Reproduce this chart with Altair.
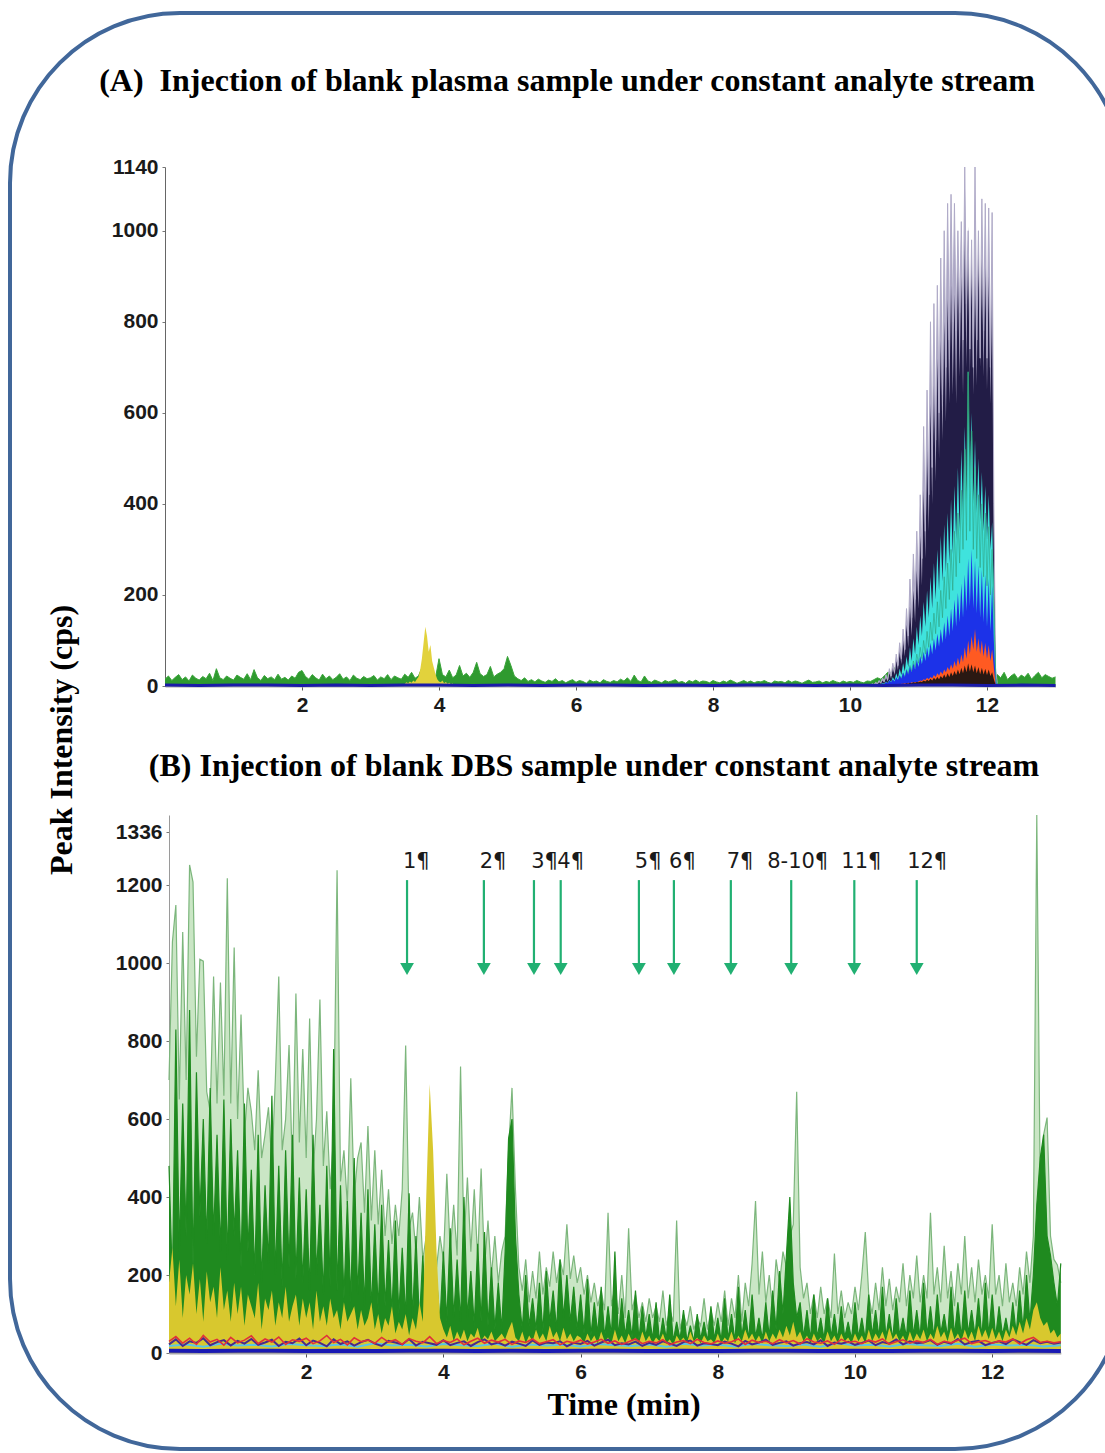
import altair as alt
import numpy as np
import pandas as pd

W, H = 1105, 1453

X_TICKS = [2, 4, 6, 8, 10, 12]
A_Y_TICKS = [0, 200, 400, 600, 800, 1000, 1140]
B_Y_TICKS = [0, 200, 400, 600, 800, 1000, 1200, 1336]

# ---------------- Panel A : blank plasma ----------------
# green baseline trace, t = 0 .. 13 min, step 0.05
A_GREEN = [
    15, 22, 12, 19, 25, 14, 20, 11, 24, 17, 13, 21, 16, 28, 12, 38, 18, 14, 22, 17,
    13, 24, 19, 15, 27, 14, 36, 18, 12, 23, 16, 20, 14, 26, 15, 19, 13, 22, 17, 30,
    34, 21, 15, 25, 18, 13, 26, 16, 22, 14, 19, 27, 15, 20, 12, 24, 17, 14, 21, 16,
    18, 23, 13, 20, 16, 25, 14, 22, 18, 15, 26, 19, 30, 17, 22, 40, 28, 34, 24, 19,
    60, 25, 20, 35, 18, 24, 45, 22, 28, 19, 30, 52, 27, 21, 25, 43, 20, 26, 30, 38,
    65, 45, 22, 16, 12, 18, 10, 14, 9, 15, 11, 8, 13, 10, 16, 9, 12, 7, 11, 14,
    8, 12, 10, 6, 13, 9, 11, 7, 14, 10, 8, 12, 9, 15, 11, 18, 10, 24, 12, 9,
    22, 11, 8, 13, 10, 7, 12, 9, 11, 14, 8, 10, 6, 12, 9, 13, 8, 11, 10, 7,
    12, 9, 7, 11, 8, 13, 10, 6, 9, 12, 8, 11, 7, 10, 9, 12, 8, 6, 11, 9,
    10, 7, 12, 8, 11, 9, 6, 10, 13, 8, 9, 11, 7, 10, 8, 12, 9, 7, 11, 8,
    10, 8, 12, 9, 7, 11, 10, 14, 18, 15, 22, 30, 28, 40, 35, 50, 45, 60, 55, 70,
    65, 80, 75, 95, 85, 110, 100, 120, 110, 135, 125, 150, 140, 170, 160, 175, 150, 130, 120, 100,
    90, 60, 12, 25, 18, 30, 14, 22, 27, 16, 24, 19, 28, 15, 23, 30, 18, 25, 21, 17,
    20,
]
# yellow trace around 3.8 min, t = 3.5 .. 4.2, step 0.025
A_YELLOW = [5, 8, 6, 10, 7, 12, 9, 15, 20, 35, 60, 95, 130, 110, 75, 90, 55, 40, 25, 15,
            10, 8, 12, 6, 9, 5, 7, 4, 6]
# late cluster, t = 10.30 .. 12.15, step 0.025
A_GRAY = [2, 5, 3, 8, 5, 12, 7, 18, 10, 25,
          14, 38, 22, 50, 30, 70, 45, 95, 60, 125,
          80, 170, 110, 235, 150, 290, 190, 340, 220, 420,
          280, 570, 340, 650, 420, 800, 480, 840, 540, 880,
          600, 940, 640, 1000, 700, 1060, 760, 1080, 800, 1060,
          780, 1000, 820, 1020, 760, 1140, 840, 1000, 740, 980,
          700, 1140, 760, 1000, 720, 1070, 780, 1060, 720, 1050,
          700, 1040, 400, 40, 5]
A_NAVY = [1, 3, 2, 5, 3, 8, 5, 12, 7, 18,
          10, 28, 16, 40, 24, 55, 35, 75, 48, 100,
          65, 135, 85, 175, 110, 210, 140, 255, 170, 330,
          220, 430, 280, 520, 340, 620, 400, 660, 450, 720,
          500, 760, 540, 800, 580, 850, 620, 880, 640, 860,
          620, 920, 680, 900, 640, 980, 700, 1010, 680, 940,
          640, 900, 660, 960, 700, 940, 680, 920, 650, 900,
          620, 880, 350, 30, 3]
A_TEAL = [0, 1, 1, 2, 2, 3, 3, 5, 4, 7,
          5, 9, 7, 12, 9, 16, 12, 22, 15, 28,
          20, 36, 26, 45, 32, 55, 40, 70, 50, 85,
          60, 100, 70, 120, 85, 140, 100, 160, 115, 185,
          130, 210, 150, 240, 170, 270, 190, 300, 210, 340,
          240, 380, 270, 430, 300, 520, 320, 690, 340, 560,
          300, 480, 280, 420, 260, 400, 240, 380, 220, 350,
          200, 300, 150, 15, 1]
A_CYAN = [0, 2, 1, 3, 2, 5, 3, 7, 4, 10,
          6, 14, 9, 20, 12, 28, 17, 38, 24, 50,
          32, 65, 42, 85, 55, 105, 70, 130, 90, 155,
          110, 185, 130, 210, 150, 240, 170, 270, 190, 300,
          210, 330, 230, 355, 250, 380, 270, 410, 290, 440,
          320, 480, 340, 520, 370, 570, 400, 610, 430, 600,
          400, 540, 380, 500, 360, 470, 340, 440, 320, 420,
          300, 360, 200, 20, 2]
A_BLUE = [0, 1, 1, 2, 2, 4, 3, 6, 4, 9,
          6, 12, 8, 15, 10, 19, 13, 24, 16, 30,
          20, 36, 25, 43, 30, 50, 36, 58, 42, 66,
          48, 75, 55, 85, 62, 95, 70, 105, 78, 115,
          86, 125, 94, 140, 102, 155, 110, 170, 120, 190,
          130, 205, 140, 225, 150, 245, 165, 280, 175, 300,
          170, 275, 160, 265, 150, 255, 140, 245, 130, 235,
          120, 220, 100, 10, 1]
A_ORANGE = [0, 0, 1, 0, 1, 1, 2, 1, 2, 2,
            3, 2, 3, 3, 4, 3, 5, 4, 5, 5,
            6, 5, 7, 6, 8, 7, 9, 8, 10, 12,
            11, 15, 13, 18, 15, 20, 17, 24, 20, 28,
            23, 32, 26, 36, 30, 42, 34, 48, 38, 55,
            42, 62, 46, 70, 52, 85, 60, 100, 70, 110,
            80, 125, 75, 105, 70, 100, 65, 95, 60, 90,
            55, 80, 40, 5, 0]
A_BLACK = [0, 0, 0, 1, 0, 1, 1, 1, 2, 1,
           2, 2, 3, 2, 3, 3, 4, 3, 4, 5,
           4, 6, 5, 7, 6, 8, 7, 9, 8, 10,
           9, 12, 10, 14, 11, 16, 12, 18, 14, 20,
           15, 22, 17, 25, 18, 28, 20, 30, 22, 33,
           24, 36, 26, 40, 28, 45, 30, 50, 32, 48,
           30, 45, 28, 42, 26, 40, 25, 38, 24, 36,
           22, 30, 15, 3, 0]
# baseline, t = 0 .. 13, step 0.5
A_BASE = [2, 1, 2, 2, 1, 2, 1, 2, 2, 1, 2, 1, 2, 2, 1, 2, 1, 2, 2, 1, 2, 1, 2, 2, 1, 2, 1]

# ---------------- Panel B : blank DBS ----------------
# t = 0 .. 13, step 0.05
B_DARKGREEN = [
    480, 180, 830, 260, 640, 300, 880, 220, 720, 350, 600, 280, 680, 300, 560, 260, 650, 240, 600, 300,
    520, 220, 640, 260, 470, 200, 560, 180, 430, 230, 660, 200, 480, 170, 520, 220, 560, 190, 450, 180,
    420, 160, 560, 200, 380, 150, 480, 170, 780, 160, 430, 140, 390, 130, 500, 150, 360, 120, 420, 110,
    330, 110, 380, 120, 290, 100, 340, 100, 270, 90, 410, 90, 300, 80, 250, 80, 200, 70, 190, 80,
    260, 80, 320, 90, 240, 80, 400, 90, 210, 70, 280, 80, 310, 70, 220, 60, 180, 60, 260, 550,
    600, 300, 150, 60, 200, 70, 140, 60, 180, 55, 210, 80, 160, 60, 240, 90, 200, 80, 170, 60,
    150, 50, 190, 45, 130, 50, 170, 40, 120, 45, 260, 40, 140, 45, 110, 40, 160, 35, 120, 40,
    100, 35, 130, 30, 90, 35, 150, 30, 80, 35, 110, 30, 70, 30, 100, 35, 80, 30, 120, 35,
    90, 30, 140, 35, 100, 30, 170, 40, 110, 35, 150, 40, 90, 35, 130, 40, 160, 60, 210, 100,
    250, 400, 180, 90, 130, 40, 110, 35, 150, 40, 90, 35, 140, 40, 100, 35, 120, 40, 80, 35,
    130, 40, 90, 35, 150, 45, 110, 40, 170, 40, 100, 35, 140, 45, 90, 40, 160, 45, 110, 40,
    180, 45, 120, 40, 150, 50, 100, 40, 170, 45, 130, 40, 160, 50, 110, 45, 140, 40, 180, 45,
    150, 40, 120, 45, 90, 40, 130, 50, 160, 60, 200, 80, 200, 380, 500, 560, 300, 250, 180, 120,
    230,
]
B_LIGHTGREEN = [
    700, 1055, 1149, 650, 1080, 700, 1252, 1208, 760, 1010, 1005, 670, 620, 966, 640, 950, 660, 1218, 640, 1040,
    600, 868, 560, 680, 620, 520, 725, 500, 560, 630, 480, 700, 966, 520, 600, 790, 460, 922, 540, 780,
    500, 858, 460, 600, 907, 480, 620, 420, 560, 1238, 440, 520, 380, 705, 400, 500, 540, 360, 582, 340,
    520, 330, 470, 300, 420, 280, 380, 300, 420, 789, 320, 360, 260, 400, 240, 300, 200, 280, 220, 300,
    240, 460, 260, 380, 250, 735, 280, 450, 260, 420, 240, 473, 220, 340, 200, 300, 180, 260, 300, 520,
    680, 420, 220, 160, 240, 130, 210, 140, 260, 150, 220, 170, 260, 180, 240, 200, 330, 190, 250, 180,
    220, 150, 200, 130, 180, 120, 160, 110, 360, 120, 170, 100, 200, 90, 320, 110, 150, 90, 130, 80,
    140, 90, 120, 80, 160, 70, 110, 80, 340, 60, 100, 70, 120, 60, 90, 70, 140, 60, 110, 70,
    130, 80, 160, 70, 140, 90, 200, 80, 180, 120, 230, 390, 150, 260, 130, 200, 110, 240, 180, 260,
    220, 300, 330, 670, 220, 140, 180, 100, 150, 90, 170, 100, 140, 90, 255, 100, 160, 90, 130, 100,
    170, 110, 200, 310, 150, 100, 180, 110, 220, 120, 190, 110, 170, 130, 230, 120, 200, 140, 250, 130,
    200, 140, 360, 150, 220, 130, 275, 140, 210, 120, 230, 150, 300, 140, 220, 130, 240, 150, 200, 140,
    330, 150, 200, 120, 230, 130, 180, 120, 220, 150, 260, 180, 300, 1380, 420, 560, 604, 300, 240, 226,
    180,
]
B_YELLOW = [
    180, 270, 120, 240, 90, 200, 150, 230, 100, 190, 80, 210, 130, 170, 90, 220, 110, 160, 80, 180,
    100, 170, 70, 150, 120, 90, 180, 60, 140, 110, 160, 70, 130, 90, 170, 80, 120, 150, 70, 140,
    90, 130, 60, 160, 80, 120, 70, 140, 90, 110, 60, 130, 80, 100, 120, 60, 110, 70, 90, 130,
    60, 100, 50, 90, 70, 120, 50, 80, 60, 100, 45, 90, 60, 130, 80, 400, 690, 520, 260, 90,
    60, 40, 70, 30, 55, 35, 60, 30, 50, 40, 65, 30, 45, 35, 55, 30, 40, 50, 35, 60,
    80, 40, 30, 55, 25, 45, 30, 60, 35, 50, 30, 70, 40, 55, 30, 65, 35, 50, 30, 45,
    40, 25, 50, 30, 45, 25, 55, 30, 40, 25, 60, 30, 45, 25, 50, 30, 40, 25, 55, 30,
    45, 25, 40, 30, 50, 25, 35, 20, 45, 30, 40, 25, 55, 30, 40, 25, 45, 30, 35, 25,
    50, 25, 40, 30, 55, 25, 45, 30, 60, 35, 50, 30, 45, 25, 55, 30, 50, 35, 60, 40,
    70, 45, 80, 40, 55, 30, 45, 25, 50, 30, 40, 25, 55, 30, 45, 25, 50, 30, 40, 25,
    50, 30, 45, 25, 60, 30, 50, 35, 55, 30, 65, 35, 50, 30, 45, 25, 55, 30, 50, 35,
    60, 30, 50, 35, 70, 40, 55, 30, 65, 35, 50, 30, 60, 35, 55, 30, 70, 40, 60, 35,
    65, 35, 55, 30, 60, 40, 70, 45, 80, 50, 90, 60, 110, 130, 90, 70, 80, 50, 60, 40,
    50,
]
# t = 0 .. 13, step 0.1
B_RED = [
    30, 42, 25, 38, 22, 45, 28, 35, 20, 40, 26, 33, 44, 24, 36, 28, 41, 22, 34, 30,
    38, 24, 31, 45, 27, 35, 21, 39, 29, 33, 25, 40, 28, 34, 22, 37, 30, 26, 42, 24,
    32, 27, 36, 21, 30, 38, 25, 33, 28, 35, 22, 31, 27, 36, 24, 29, 34, 21, 30, 26,
    33, 23, 28, 35, 25, 31, 22, 29, 36, 24, 30, 26, 34, 21, 28, 32, 24, 35, 27, 23,
    31, 25, 29, 36, 22, 33, 27, 30, 24, 34, 26, 32, 23, 37, 28, 25, 31, 22, 35, 27,
    30, 24, 33, 28, 36, 23, 29, 34, 25, 31, 27, 35, 22, 30, 26, 33, 38, 24, 29, 32,
    25, 31, 28, 36, 23, 34, 40, 27, 30, 26, 29,
]
B_PURPLE = [
    22, 35, 18, 30, 26, 38, 20, 28, 33, 19, 31, 24, 36, 21, 27, 34, 18, 29, 25, 37,
    20, 32, 26, 17, 35, 23, 30, 19, 28, 34, 24, 18, 31, 27, 22, 36, 19, 29, 25, 21,
    33, 20, 26, 30, 18, 28, 35, 22, 27, 19, 29, 24, 18, 32, 21, 27, 25, 30, 17, 26,
    23, 31, 19, 27, 34, 20, 25, 22, 29, 18, 26, 21, 30, 24, 18, 28, 32, 19, 25, 23,
    20, 29, 24, 17, 31, 22, 27, 34, 21, 26, 30, 19, 25, 28, 22, 33, 18, 27, 24, 29,
    21, 26, 32, 20, 28, 24, 35, 22, 30, 25, 27, 33, 21, 29, 24, 36, 22, 28, 31, 20,
    26, 30, 23, 35, 28, 21, 33, 25, 29, 24, 27,
]
# t = 0 .. 13, step 0.25
B_CYAN = [18, 22, 16, 24, 19, 21, 17, 23, 20, 18, 22, 16, 25, 19, 21, 17, 23, 20, 18, 24,
          16, 22, 19, 21, 17, 23, 20, 18, 22, 16, 24, 19, 21, 17, 23, 20, 18, 22, 16, 25,
          19, 21, 17, 23, 20, 18, 24, 16, 22, 19, 21, 17, 20]
# t = 0 .. 13, step 0.5
B_BASE = [6, 5, 6, 6, 5, 6, 5, 6, 6, 5, 6, 5, 6, 6, 5, 6, 5, 6, 6, 5, 6, 5, 6, 6, 5, 6, 5]

# peak annotations (retention times, min)
ARROW_T = [3.47, 4.59, 5.32, 5.71, 6.85, 7.36, 8.19, 9.07, 9.99, 10.90]
LABELS = ["1¶", "2¶", "3¶", "4¶", "5¶", "6¶", "7¶", "8-10¶", "11¶", "12¶"]
LABEL_T = [3.41, 4.53, 5.28, 5.66, 6.79, 7.29, 8.13, 8.72, 9.80, 10.76]

# ---------------- helpers ----------------
def grid(start, step, n):
    return np.round(start + step * np.arange(n), 4)


def frame(t, v):
    assert len(t) == len(v), (len(t), len(v))
    return pd.DataFrame({"t": t, "v": v})


PANELS = {
    "A": dict(x0=165, x1=1055.5, y0=686, y1=167, ymax=1140, yticks=A_Y_TICKS, ydom="#666666"),
    "B": dict(x0=169, x1=1060.8, y0=1353, y1=815, ymax=1380, yticks=B_Y_TICKS, ydom="#9a9a9a"),
}
LABEL_STYLE = dict(labelFont="Liberation Sans", labelFontSize=21, labelFontWeight="bold",
                   labelColor="#1a1a1a", labelFlush=False, labelOverlap=False, grid=False, title=None)


def xenc(p, field="t"):
    g = PANELS[p]
    return alt.X(f"{field}:Q",
                 scale=alt.Scale(domain=[0, 13], range=[g["x0"], g["x1"]], nice=False, zero=False),
                 axis=alt.Axis(orient="bottom", offset=g["y0"] - H, values=X_TICKS, format="d",
                               domainColor="#a8a8a8", domainWidth=2, tickColor="#555555",
                               tickSize=4, labelPadding=4, **LABEL_STYLE))


def yenc(p, field="v"):
    g = PANELS[p]
    return alt.Y(f"{field}:Q",
                 scale=alt.Scale(domain=[0, g["ymax"]], range=[g["y0"], g["y1"]], nice=False,
                                 zero=True, clamp=True),
                 axis=alt.Axis(orient="left", offset=-g["x0"], values=g["yticks"], format="d",
                               domainColor=g["ydom"], domainWidth=1, tickColor="#777777",
                               tickSize=3, labelPadding=4, **LABEL_STYLE))


def trace(p, t, v, color, width=1.2, opacity=1.0):
    return alt.Chart(frame(t, v)).mark_line(color=color, strokeWidth=width, opacity=opacity).encode(
        x=xenc(p), y=yenc(p))


def filled(p, t, v, color, opacity=1.0):
    return alt.Chart(frame(t, v)).mark_area(color=color, opacity=opacity).encode(
        x=xenc(p), y=yenc(p))


tA = grid(0, 0.05, 261)
tAy = grid(3.5, 0.025, 29)
tC = grid(10.30, 0.025, 75)
tB50 = grid(0, 0.05, 261)
tB10 = grid(0, 0.1, 131)
tB25 = grid(0, 0.25, 53)
tB5 = grid(0, 0.5, 27)

panel_a = alt.layer(
    filled("A", tA, A_GREEN, "#2f9a2f"),
    trace("A", tA, A_GREEN, "#3aa53a", 1.0),
    filled("A", tAy, A_YELLOW, "#e2d23c"),
    filled("A", tC, A_GRAY, "#aaa5c2"),
    filled("A", tC, A_NAVY, "#221c46"),
    trace("A", tC, A_GRAY, "#b0abc8", 1.0),
    trace("A", tC, A_TEAL, "#2e9a76", 1.4),
    filled("A", tC, A_CYAN, "#3fe3dd"),
    trace("A", tC, A_TEAL, "#2e9a76", 0.8, 0.7),
    filled("A", tC, A_BLUE, "#1c32e8"),
    filled("A", tC, A_ORANGE, "#ff5a22"),
    filled("A", tC, A_BLACK, "#2a1812"),
    trace("A", tB5, A_BASE, "#1a1aa8", 3),
)

ARROW_C = "#21b072"
ann = pd.DataFrame({"t": ARROW_T})
ann["top"] = 1213
ann["tip"] = 997
ann["head"] = 985
lab = pd.DataFrame({"t": LABEL_T, "label": LABELS})
lab["ly"] = 1259

arrow_rules = alt.Chart(ann).mark_rule(color=ARROW_C, strokeWidth=2.2).encode(
    x=xenc("B"), y=yenc("B", "top"), y2="tip:Q")
arrow_heads = alt.Chart(ann).mark_point(shape="triangle-down", filled=True, size=190,
                                        color=ARROW_C, opacity=1).encode(
    x=xenc("B"), y=yenc("B", "head"))
arrow_labels = alt.Chart(lab).mark_text(align="left", baseline="middle", font="DejaVu Sans",
                                        fontSize=21, color="#1a1a1a").encode(
    x=xenc("B"), y=yenc("B", "ly"), text="label:N")

panel_b = alt.layer(
    filled("B", tB50, B_LIGHTGREEN, "#a6d69e", 0.6),
    trace("B", tB50, B_LIGHTGREEN, "#7cb67c", 1.2),
    filled("B", tB50, B_DARKGREEN, "#1f8a1f"),
    trace("B", tB50, B_DARKGREEN, "#1f8a1f", 1.2),
    filled("B", tB50, B_YELLOW, "#d8c82e"),
    trace("B", tB25, B_CYAN, "#58c6e6", 2.0),
    trace("B", tB10, B_PURPLE, "#4a2a8a", 2.0),
    trace("B", tB10, B_RED, "#e0303a", 1.6),
    trace("B", tB5, B_BASE, "#1a1ab4", 4),
    arrow_rules,
    arrow_heads,
    arrow_labels,
)

one = alt.Data(values=[{}])
border = alt.Chart(one).mark_rect(fill="white", fillOpacity=0, stroke="#41679a", strokeWidth=4,
                                  cornerRadius=170).encode(
    x=alt.value(10), x2=alt.value(1125), y=alt.value(13), y2=alt.value(1449))


def label(text, x, y, size=32, angle=0):
    return alt.Chart(one).mark_text(text=text, font="Liberation Serif", fontWeight="bold",
                                    fontSize=size, color="#000000", align="center",
                                    baseline="middle", angle=angle).encode(
        x=alt.value(x), y=alt.value(y))


texts = alt.layer(
    label("(A)\u00a0\u00a0Injection of blank plasma sample under constant analyte stream", 567, 81),
    label("(B)\u00a0Injection of blank DBS sample under constant analyte stream", 594, 766),
    label("Peak Intensity (cps)", 62, 740, angle=270),
    label("Time (min)", 624, 1405),
)

chart = alt.layer(border, panel_a, panel_b, texts).resolve_scale(
    x="independent", y="independent"
).properties(
    width=W, height=H, padding=0, autosize=alt.AutoSizeParams(type="none"),
    background="white",
).configure_view(stroke="transparent")

chart.save("out.html", embed_options={"renderer": "svg", "actions": False})
